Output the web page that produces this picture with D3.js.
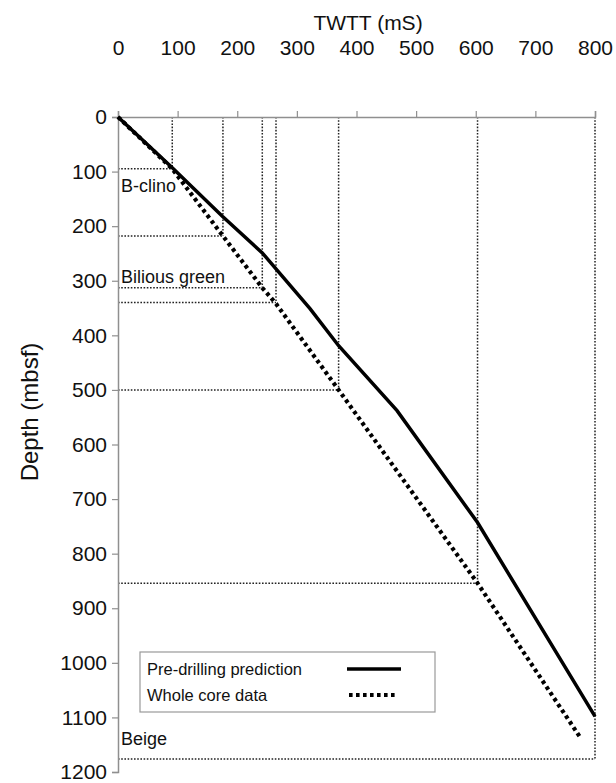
<!DOCTYPE html>
<html>
<head>
<meta charset="utf-8">
<script src="https://cdn.jsdelivr.net/npm/d3@7"></script>
<style>
  body { margin: 0; background: #fff; }
  svg text { font-family: "Liberation Sans", Arial, sans-serif; fill: #111; }
</style>
</head>
<body>
<svg id="chart" width="616" height="783"></svg>
<script>
// Axis ticks
const twttTicks = [0, 100, 200, 300, 400, 500, 600, 700, 800];
const depthTicks = [0, 100, 200, 300, 400, 500, 600, 700, 800, 900, 1000, 1100, 1200];

// Pre-drilling prediction: two-way travel time (ms) vs depth (mbsf)
const predTwtt  = [0, 91, 175, 242, 322, 370, 468, 603, 800];
const predDepth = [0, 93, 182, 249, 351, 419, 538, 743, 1098];

// Whole core data
const coreTwtt  = [0, 91, 176, 242, 265, 370, 603, 776];
const coreDepth = [0, 95, 218, 313, 342, 500, 854, 1138];

// Picked horizons: TWTT / depth pairs used for the guide lines
const horizonTwtt  = [91, 176, 242, 265, 370, 603, 800];
const horizonDepth = [95, 218, 313, 340, 500, 854, 1176];

// Unit names and the depth each name sits at
const unitNames  = ["B-clino", "Bilious green", "Beige"];
const unitDepths = [138, 304, 1150];

const seriesNames = ["Pre-drilling prediction", "Whole core data"];

const svg = d3.select("#chart");
const margin = { left: 118, right: 21, top: 117, bottom: 11 };
const width = 616, height = 783;

const x = d3.scaleLinear().domain([0, 800]).range([margin.left, width - margin.right]);
const y = d3.scaleLinear().domain([0, 1200]).range([margin.top, height - margin.bottom]);

// Guide lines for the horizons
const guides = svg.append("g")
  .attr("fill", "none")
  .attr("stroke", "#222")
  .attr("stroke-width", 1.5)
  .attr("stroke-dasharray", "1.6,1.6");
horizonTwtt.forEach((t, i) => {
  const d = horizonDepth[i];
  guides.append("line")
    .attr("x1", x(t)).attr("x2", x(t))
    .attr("y1", y(0)).attr("y2", y(d));
  guides.append("line")
    .attr("x1", x(0)).attr("x2", x(t))
    .attr("y1", y(d)).attr("y2", y(d));
});

// Axes
const axisColor = "#8f8f8f";
const xAxis = svg.append("g")
  .attr("transform", `translate(0,${y(0)})`)
  .call(d3.axisTop(x).tickValues(twttTicks).tickSize(6).tickPadding(56).tickFormat(d3.format("d")));
const yAxis = svg.append("g")
  .attr("transform", `translate(${x(0)},0)`)
  .call(d3.axisLeft(y).tickValues(depthTicks).tickSize(6).tickPadding(5).tickFormat(d3.format("d")));
[xAxis, yAxis].forEach(a => {
  a.select(".domain").attr("stroke", axisColor).attr("stroke-width", 1.5);
  a.selectAll(".tick line").attr("stroke", axisColor).attr("stroke-width", 1.2);
  a.selectAll(".tick text").attr("font-size", 21).attr("fill", "#111")
    .style("font-family", "Liberation Sans, Arial, sans-serif");
});

// Axis titles
svg.append("text")
  .attr("x", 368).attr("y", 30)
  .attr("text-anchor", "middle")
  .attr("font-size", 21)
  .text("TWTT (mS)");
svg.append("text")
  .attr("transform", `translate(38,412) rotate(-90)`)
  .attr("text-anchor", "middle")
  .attr("font-size", 24)
  .text("Depth (mbsf)");

// Series
const line = d3.line().x(d => x(d[0])).y(d => y(d[1]));
const coreData = coreTwtt.map((t, i) => [t, coreDepth[i]]);
const predData = predTwtt.map((t, i) => [t, predDepth[i]]);

svg.append("path")
  .datum(coreData)
  .attr("d", line)
  .attr("fill", "none")
  .attr("stroke", "#000")
  .attr("stroke-width", 4.2)
  .attr("stroke-dasharray", "3.6,3.4");
svg.append("path")
  .datum(predData)
  .attr("d", line)
  .attr("fill", "none")
  .attr("stroke", "#000")
  .attr("stroke-width", 3.5);

// Unit labels
unitNames.forEach((name, i) => {
  svg.append("text")
    .attr("x", x(0) + 3)
    .attr("y", y(unitDepths[i]))
    .attr("font-size", 18)
    .text(name);
});

// Legend
const legend = svg.append("g").attr("transform", "translate(140,652)");
legend.append("rect")
  .attr("width", 295).attr("height", 60)
  .attr("fill", "#fff")
  .attr("stroke", "#999").attr("stroke-width", 1.2);
seriesNames.forEach((name, i) => {
  const rowY = 17 + i * 26;
  legend.append("text")
    .attr("x", 7).attr("y", rowY + 5.5)
    .attr("font-size", 16.5)
    .text(name);
  legend.append("line")
    .attr("x1", i === 0 ? 207 : 209).attr("x2", i === 0 ? 261 : 258)
    .attr("y1", rowY).attr("y2", rowY)
    .attr("stroke", "#000")
    .attr("stroke-width", i === 0 ? 3.5 : 4.2)
    .attr("stroke-dasharray", i === 0 ? null : "3.6,3.4");
});
</script>
</body>
</html>
